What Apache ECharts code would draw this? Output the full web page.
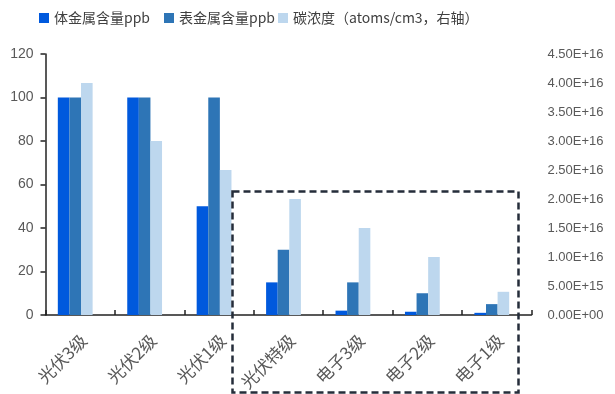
<!DOCTYPE html>
<html>
<head>
<meta charset="utf-8">
<script src="https://cdn.jsdelivr.net/npm/echarts@6/dist/echarts.min.js"></script>
<style>
  html, body { margin: 0; padding: 0; background: #fff; }
  #chart { width: 615px; height: 394px; }
</style>
</head>
<body>
<div id="chart"></div>
<script>
// Silicon grades and their impurity levels
const categories = ['光伏3级', '光伏2级', '光伏1级', '光伏特级', '电子3级', '电子2级', '电子1级'];
const bulkMetal = [100, 100, 50, 15, 2, 1.5, 1];          // 体金属含量 ppb
const surfaceMetal = [100, 100, 100, 30, 15, 10, 5];      // 表金属含量 ppb
const carbon = [4.0e16, 3.0e16, 2.5e16, 2.0e16, 1.5e16, 1.0e16, 4.0e15]; // atoms/cm3
const seriesNames = ['体金属含量ppb', '表金属含量ppb', '碳浓度（atoms/cm3，右轴）'];
const colors = ['#0059DD', '#2E75B6', '#BDD7EE'];

const labelColor = '#595959';
const cjkFont = '"Noto Sans CJK SC", "Liberation Sans", sans-serif';
const numFont = '"Liberation Sans", sans-serif';

function fmtSci(v) {
  if (v === 0) return '0.00E+00';
  const e = Math.floor(Math.log10(v) + 1e-9);
  const m = v / Math.pow(10, e);
  return m.toFixed(2) + 'E+' + String(e).padStart(2, '0');
}

// one legend block per series so each entry sits at its own x
const legendLefts = [39, 164, 278];
const legends = seriesNames.map((name, i) => ({
  data: [name],
  left: legendLefts[i],
  top: 11,
  padding: 0,
  itemWidth: 10,
  itemHeight: 10,
  icon: 'rect',
  textStyle: { fontFamily: cjkFont, fontSize: 14, color: '#404040' }
}));

const BAR_W = 11.6;
const chart = echarts.init(document.getElementById('chart'), null, { renderer: 'canvas' });

chart.setOption({
  animation: false,
  color: colors,
  legend: legends,
  grid: { left: 45.5, right: 83.5, top: 54, bottom: 79, containLabel: false },
  xAxis: {
    type: 'category',
    data: categories,
    axisLine: { lineStyle: { color: '#222', width: 1.5 } },
    axisTick: { show: true, inside: true, length: 5, lineStyle: { color: '#222', width: 1.5 } },
    axisLabel: {
      rotate: 45,
      margin: 26,
      fontFamily: cjkFont,
      fontSize: 17,
      color: labelColor,
      padding: [0, -5, 0, 0]
    }
  },
  yAxis: [
    {
      type: 'value',
      min: 0, max: 120, interval: 20,
      splitLine: { show: false },
      axisLine: { show: true, lineStyle: { color: '#222', width: 1.5 } },
      axisTick: { show: true, length: 5, lineStyle: { color: '#222', width: 1.5 } },
      axisLabel: { margin: 12, fontFamily: numFont, fontSize: 14, color: labelColor }
    },
    {
      type: 'value',
      min: 0, max: 4.5e16, interval: 5e15,
      splitLine: { show: false },
      axisLine: { show: false },
      axisTick: { show: false },
      axisLabel: { margin: 16, fontFamily: numFont, fontSize: 13, color: labelColor, formatter: fmtSci }
    }
  ],
  series: [
    { name: seriesNames[0], type: 'bar', yAxisIndex: 0, data: bulkMetal, barWidth: BAR_W, barGap: '0%', itemStyle: { color: colors[0] } },
    { name: seriesNames[1], type: 'bar', yAxisIndex: 0, data: surfaceMetal, barWidth: BAR_W, barGap: '0%', itemStyle: { color: colors[1] } },
    { name: seriesNames[2], type: 'bar', yAxisIndex: 1, data: carbon, barWidth: BAR_W, barGap: '0%', itemStyle: { color: colors[2] } },
    // empty trailing slot keeps the group slightly left of the category centre
    { name: 'spacer', type: 'bar', yAxisIndex: 0, data: categories.map(() => '-'), barWidth: 10, barGap: '0%', silent: true }
  ],
  graphic: [
    {
      type: 'rect',
      shape: { x: 232.5, y: 191.5, width: 286, height: 201 },
      style: { fill: 'none', stroke: '#252d3a', lineWidth: 2.5, lineDash: [7, 4] },
      z: 100
    }
  ]
});
</script>
</body>
</html>
